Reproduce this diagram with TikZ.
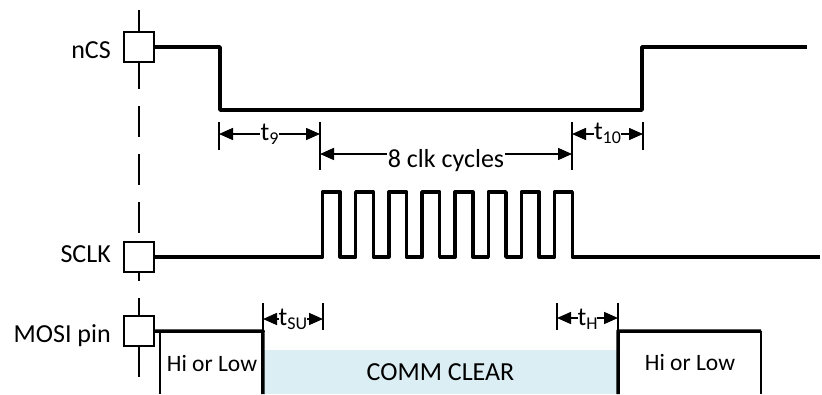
\documentclass[tikz,border=0pt]{standalone}
\usepackage{fontspec}
\setmainfont{Carlito}
\usetikzlibrary{arrows.meta,calc}
\definecolor{ClearBlue}{RGB}{218,238,243}
\newcommand{\tsub}[1]{t\raisebox{-4pt}{\fontsize{18}{18}\selectfont #1}}
\tikzset{
  sig/.style={line width=3.5pt,line join=round},
  thinedge/.style={line width=1.8pt},
  guide/.style={line width=1.8pt,dash pattern=on 31pt off 17pt},
  pinbox/.style={draw,line width=1.8pt,fill=white,minimum width=30pt,
    minimum height=30pt,inner sep=0pt},
  pinlabel/.style={anchor=base east,inner sep=0pt,font=\fontsize{26}{30}\selectfont},
  tick/.style={line width=1.6pt},
  dim/.style={{Triangle[length=14pt,width=12pt]}-{Triangle[length=14pt,width=12pt]},
    line width=1.5pt},
  dimtext/.style={fill=white,inner sep=1pt,anchor=base,font=\fontsize{26}{30}\selectfont},
  zonetext/.style={inner sep=0pt,anchor=base,font=\fontsize{23.5}{28}\selectfont},
  clearzone/.style={fill=ClearBlue,minimum width=355pt,minimum height=44pt,
    inner sep=0pt,font=\fontsize{26}{30}\selectfont}
}

\begin{document}
\begin{tikzpicture}[x=1pt,y=-1pt]
  \useasboundingbox (0,0) rectangle (822,394);

  % data window on MOSI
  \node[clearzone] (clear) at (440.5,372) {COMM CLEAR};

  % guide line and pin boxes
  \coordinate (guidetop) at (139,10);
  \coordinate (guidebot) at (139,377);
  \draw[guide] (guidetop) -- (guidebot);
  \node[pinbox] (ncsbox) at (139,47) {};
  \node[pinbox] (sclkbox) at (139,257) {};
  \node[pinbox] (mosibox) at (139,331) {};
  \node[pinlabel] (ncslabel) at (111,58) {nCS};
  \node[pinlabel] (sclklabel) at (111,262) {SCLK};
  \node[pinlabel] (mosilabel) at (111,342.5) {MOSI pin};

  % nCS
  \draw[sig] (ncsbox.east) -- (220,47) -- (220,110) -- (642,110) -- (642,47) -- (807,47);

  % SCLK, 8 pulses
  \draw[sig] (sclkbox.east) -- (322.5,257)
    \foreach \k in {0,...,7}{ -- ++(0,-65) -- ++(17.7,0) -- ++(0,65) -- ++(15.45,0) }
    -- (820,257);

  % MOSI
  \draw[sig] (mosibox.east) -- (263,331) -- (clear.south west);
  \draw[thinedge] (160,331) -- (160,394);
  \draw[sig] (clear.south east) -- (618,331) -- (761,331);
  \draw[thinedge] (761,331) -- (761,394);
  \node[zonetext] (hilowleft) at (212,371.5) {Hi or Low};
  \node[zonetext] (hilowright) at (690,370) {Hi or Low};

  % timing marks
  \coordinate (t9l) at (219,134);
  \coordinate (t9r) at (320,134);
  \coordinate (clkl) at (320,154);
  \coordinate (clkr) at (572,154);
  \coordinate (t10l) at (572,134);
  \coordinate (t10r) at (643,134);
  \coordinate (tsul) at (263,319);
  \coordinate (tsur) at (323,319);
  \coordinate (thl) at (557,318);
  \coordinate (thr) at (618,318);
  \draw[tick] ($(t9l)+(0,-12)$) -- ($(t9l)+(0,16)$);
  \draw[tick] ($(t9r)+(0,-12)$) -- ($(t9r)+(0,36)$);
  \draw[tick] ($(t10l)+(0,-12)$) -- ($(t10l)+(0,36)$);
  \draw[tick] ($(t10r)+(0,-12)$) -- ($(t10r)+(0,16)$);
  \draw[tick] ($(tsul)+(0,-16)$) -- ($(tsul)+(0,12)$);
  \draw[tick] ($(tsur)+(0,-16)$) -- ($(tsur)+(0,11)$);
  \draw[tick] ($(thl)+(0,-15)$) -- ($(thl)+(0,12)$);
  \draw[tick] ($(thr)+(0,-15)$) -- ($(thr)+(0,12)$);
  \draw[dim] (t9l) -- (t9r) node[dimtext,midway,yshift=-6pt] (t9) {\tsub{9}};
  \draw[dim] (clkl) -- (clkr) node[dimtext,midway,yshift=-13pt] (clk) {8 clk cycles};
  \draw[dim] (t10l) -- (t10r) node[dimtext,midway,yshift=-5pt,inner sep=0pt] (t10) {\tsub{10}};
  \draw[dim] (tsul) -- (tsur) node[dimtext,midway,yshift=-6pt,inner sep=0pt] (tsu) {\tsub{SU}};
  \draw[dim] (thl) -- (thr) node[dimtext,midway,yshift=-7pt,inner sep=0pt] (th) {\tsub{H}};
\end{tikzpicture}
\end{document}
